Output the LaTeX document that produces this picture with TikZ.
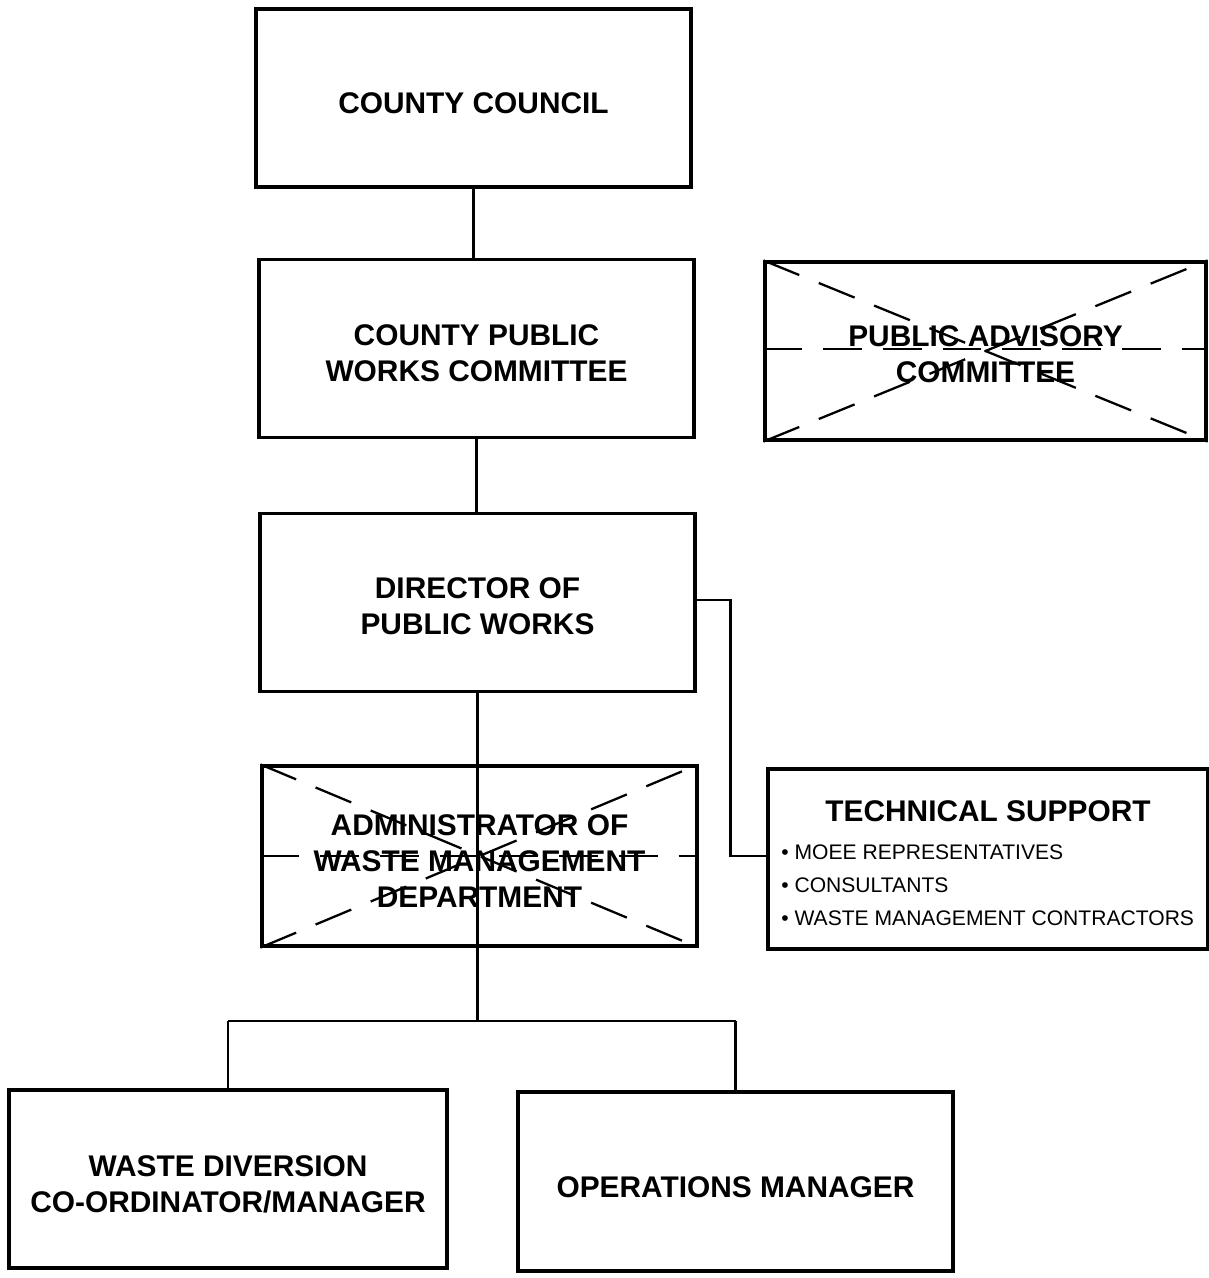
\documentclass[tikz,border=0pt]{standalone}
\usepackage{fontspec}
\setmainfont{Liberation Sans}
\usetikzlibrary{positioning}

\begin{document}
\begin{tikzpicture}[x=0.02cm, y=-0.02cm]
\tikzstyle{every node}=[inner sep=0mm]
\tikzstyle{orgbox}=[draw, line width=1.8pt, minimum width=8.7cm, minimum height=3.56cm]
\tikzstyle{boxtext}=[align=center, font=\fontsize{17}{20.5}\selectfont\bfseries]
\tikzstyle{crossout}=[line width=1.3pt, dash pattern=on 22pt off 12pt]
\tikzstyle{link}=[line width=1.4pt]
\tikzstyle{item}=[anchor=west, font=\fontsize{12}{14}\selectfont]

\useasboundingbox (0,0) rectangle (1209,1278);

% boxes of the chart
\node[orgbox] (council) at (473.5,98) {};
\node[orgbox] (works) at (476.5,348.5) {};
\node[orgbox, minimum width=8.82cm] (advisory) at (985.5,351) {};
\node[orgbox] (director) at (477.5,602.5) {};
\node[orgbox, minimum height=3.6cm] (admin) at (479.5,856) {};
\node[orgbox, minimum width=8.8cm, minimum height=3.6cm] (tech) at (988,859) {};
\node[orgbox, minimum width=8.76cm] (diversion) at (228,1179) {};
\node[orgbox, minimum height=3.58cm] (operations) at (735.5,1181.5) {};

% box titles
\node[boxtext] (councilname) at ([yshift=-2.8pt]council) {COUNTY COUNCIL};
\node[boxtext] (worksname) at ([yshift=-2.8pt]works) {COUNTY PUBLIC\\WORKS COMMITTEE};
\node[boxtext] (advisoryname) at ([yshift=-2pt]advisory) {PUBLIC ADVISORY\\COMMITTEE};
\node[boxtext] (directorname) at ([yshift=-2pt]director) {DIRECTOR OF\\PUBLIC WORKS};
\node[boxtext] (adminname) at ([yshift=-3pt]admin) {ADMINISTRATOR OF\\WASTE MANAGEMENT\\DEPARTMENT};
\node[boxtext] (diversionname) at ([yshift=-2.8pt]diversion) {WASTE DIVERSION\\CO-ORDINATOR/MANAGER};
\node[boxtext] (operationsname) at ([yshift=-3.5pt]operations) {OPERATIONS MANAGER};

% technical support contents
\node[boxtext] (techtitle) at (988,811) {TECHNICAL SUPPORT};
\node[item] (moee) at (781,852) {• MOEE REPRESENTATIVES};
\node[item] (consult) at (781,885) {• CONSULTANTS};
\node[item] (contract) at (781,918) {• WASTE MANAGEMENT CONTRACTORS};

% crossed out boxes
\draw[crossout] (advisory.north west) -- (advisory.south east);
\draw[crossout] (advisory.south west) -- (advisory.north east);
\draw[crossout] ([yshift=1pt]advisory.west) -- ([yshift=1pt]advisory.east);
\draw[crossout] (admin.north west) -- (admin.south east);
\draw[crossout] (admin.south west) -- (admin.north east);
\draw[crossout] (admin.west) -- (admin.east);

% connectors
\coordinate (split) at (478,1021);
\draw[link] (council.south) -- (council.south |- works.north);
\draw[link] (works.south) -- (works.south |- director.north);
\draw[line width=2.2pt] (director.south) -- (director.south |- split);
\draw[link] (diversion.north |- split) -- (operations.north |- split);
\draw[link] (diversion.north |- split) -- (diversion.north);
\draw[link] (operations.north |- split) -- (operations.north);
\draw[link] ([yshift=0.05cm]director.east) -- ++(34,0) |- ([yshift=0.06cm]tech.west);

\end{tikzpicture}
\end{document}
